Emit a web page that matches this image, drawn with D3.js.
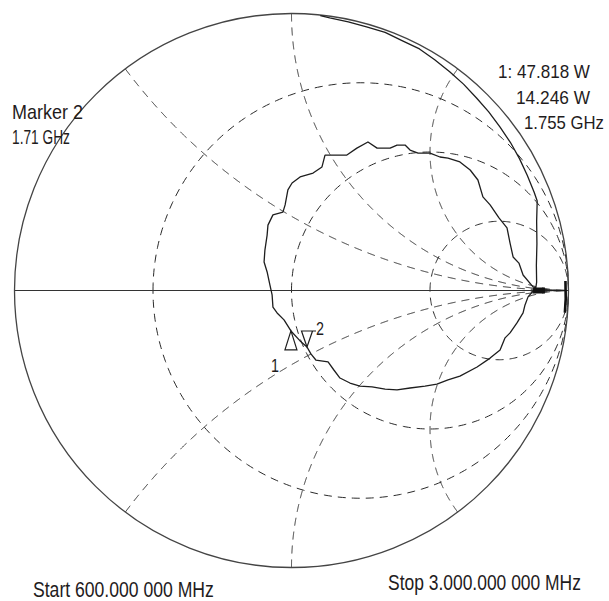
<!DOCTYPE html>
<html>
<head>
<meta charset="utf-8">
<script src="https://cdn.jsdelivr.net/npm/d3@7"></script>
<style>
  html, body { margin: 0; padding: 0; background: #fff; }
  svg { display: block; }
  text { font-family: "Liberation Sans", Arial, sans-serif; fill: #1f1c1d; }
</style>
</head>
<body>
<svg id="chart" width="609" height="601"></svg>
<script>
// ---------- data ----------
// Smith chart graticule (normalised resistance circles / reactance arcs)
const resistanceCircles = [1/3, 1, 3];
const reactanceArcs = [0.5, 1, 2, -0.5, -1, -2];

// Measured trace, reflection coefficient (real, imaginary)
const traceRe = [0.104,0.138,0.205,0.271,0.338,0.399,0.462,0.517,0.571,0.621,0.668,0.712,0.753,0.790,0.823,0.851,0.876,0.887,
  0.885,0.886,0.884,0.885,0.882,
  0.872,0.836,0.821,0.800,0.789,0.778,0.749,0.717,0.691,0.673,0.645,0.608,0.565,0.536,0.500,0.457,0.428,0.410,0.381,0.356,0.309,0.276,0.236,0.200,0.157,0.121,
  0.110,0.078,0.031,0.002,-0.013,-0.023,-0.031,-0.067,-0.085,-0.088,-0.096,-0.099,-0.088,-0.078,-0.070,-0.067,-0.052,-0.027,-0.002,
  0.031,0.056,0.070,0.088,0.132,0.153,0.175,0.211,0.247,0.291,0.338,0.381,0.428,0.482,0.525,0.565,0.608,0.670,0.717,0.753,0.771,0.789,0.814,0.836,0.843,0.854,0.872,
  0.915,0.958,0.990,0.990,0.986];
const traceIm = [0.992,0.984,0.970,0.952,0.932,0.902,0.872,0.833,0.790,0.745,0.695,0.645,0.590,0.535,0.476,0.416,0.355,0.323,
  0.250,0.170,0.090,0.030,0.010,
  0.013,0.056,0.099,0.121,0.171,0.226,0.262,0.309,0.338,0.399,0.435,0.464,0.478,0.482,0.496,0.496,0.507,0.525,0.525,0.514,0.514,0.536,0.514,0.489,0.489,0.489,
  0.446,0.424,0.410,0.388,0.363,0.309,0.283,0.273,0.236,0.200,0.146,0.103,0.067,0.020,-0.016,-0.060,-0.081,-0.106,-0.146,
  -0.182,-0.204,-0.229,-0.251,-0.258,-0.287,-0.316,-0.334,-0.345,-0.348,-0.356,-0.359,-0.352,-0.345,-0.338,-0.323,-0.309,-0.276,-0.244,-0.215,-0.171,-0.153,-0.117,-0.081,-0.052,-0.023,-0.002,
  0.002,0.000,0.000,-0.034,-0.078];

// dense (overplotted) parts of the trace near the open-circuit point
const denseRe = [0.872, 0.915];
const denseIm = [0.000, 0.000];
const edgeRe = [0.989, 0.990, 0.987];
const edgeIm = [0.034, -0.030, -0.080];

// markers
const markerIds = ["1", "2"];
const markerRe = [-0.002, 0.056];
const markerIm = [-0.146, -0.204];

// texts
const markerReadout = ["1: 47.818 W", "14.246 W", "1.755 GHz"];
const activeMarker = ["Marker 2", "1.71 GHz"];
const startLabel = "Start 600.000 000 MHz";
const stopLabel = "Stop 3.000.000 000 MHz";

// ---------- layout ----------
const cx = 291.5, cy = 290.5, R = 277;
const x = d3.scaleLinear().domain([-1, 1]).range([cx - R, cx + R]);
const y = d3.scaleLinear().domain([-1, 1]).range([cy + R, cy - R]);
const svg = d3.select("#chart");
const line = d3.line().x(d => x(d[0])).y(d => y(d[1]));

const gridColor = "#2a2a2a";
const dash = "8,6";

// resistance circles
const grid = svg.append("g");
resistanceCircles.forEach(r => {
  const c = r / (1 + r), rad = 1 / (1 + r);
  const pts = d3.range(0, 361, 1).map(a => {
    const t = Math.PI - a * Math.PI / 180;
    return [c + rad * Math.cos(t), rad * Math.sin(t)];
  });
  grid.append("path").attr("d", line(pts))
    .attr("fill", "none").attr("stroke", gridColor).attr("stroke-width", 1)
    .attr("stroke-dasharray", dash);
});

// reactance arcs: z = r + jx, r from 0 to large
reactanceArcs.forEach(xv => {
  const pts = d3.range(0, 1000).map(i => {
    const r = Math.tan(i / 1000 * Math.PI / 2);
    const den = (r + 1) * (r + 1) + xv * xv;
    return [(r * r - 1 + xv * xv) / den, 2 * xv / den];
  });
  pts.push([1, 0]);
  grid.append("path").attr("d", line(pts))
    .attr("fill", "none").attr("stroke", gridColor).attr("stroke-width", 1)
    .attr("stroke-dasharray", dash);
});

// real axis
svg.append("line")
  .attr("x1", x(-1)).attr("x2", x(1)).attr("y1", y(0)).attr("y2", y(0))
  .attr("stroke", "#333").attr("stroke-width", 1.2);

// outer circle
svg.append("circle")
  .attr("cx", x(0)).attr("cy", y(0)).attr("r", x(1) - x(0))
  .attr("fill", "none").attr("stroke", "#444").attr("stroke-width", 1.3);

// trace
const trace = traceRe.map((v, i) => [v, traceIm[i]]);
svg.append("path").attr("d", line(trace))
  .attr("fill", "none").attr("stroke", "#1e1e1e").attr("stroke-width", 1.3)
  .attr("stroke-linejoin", "round");

svg.append("path").attr("d", line(denseRe.map((v, i) => [v, denseIm[i]])))
  .attr("fill", "none").attr("stroke", "#111").attr("stroke-width", 6);
svg.append("path").attr("d", line(edgeRe.map((v, i) => [v, edgeIm[i]])))
  .attr("fill", "none").attr("stroke", "#111").attr("stroke-width", 2.6);

// texts: condensed by horizontal scaling to the measured width
function label(t, xx, yy, size, width) {
  const g = svg.append("g");
  const tx = g.append("text").attr("x", 0).attr("y", 0).attr("font-size", size).text(t);
  const nat = tx.node().getComputedTextLength();
  const k = width / nat;
  g.attr("transform", `translate(${xx},${yy}) scale(${k},1)`);
}

// markers
const m1x = x(markerRe[0]), m1y = y(markerIm[0]);
svg.append("path")
  .attr("d", `M${m1x},${m1y} L${m1x - 6},${m1y + 19} L${m1x + 6},${m1y + 19} Z`)
  .attr("fill", "none").attr("stroke", "#1e1e1e").attr("stroke-width", 1.2);
label(markerIds[0], m1x - 20, m1y + 41, 19, 8);

const m2x = x(markerRe[1]), m2y = y(markerIm[1]);
svg.append("path")
  .attr("d", `M${m2x},${m2y} L${m2x - 5.5},${m2y - 16} L${m2x + 5.5},${m2y - 16} Z M${m2x + 5.5},${m2y - 16} L${m2x + 9},${m2y - 16}`)
  .attr("fill", "none").attr("stroke", "#1e1e1e").attr("stroke-width", 1.2);
label(markerIds[1], m2x + 9, m2y - 12, 18, 8);

label(activeMarker[0], 12, 118.5, 21, 71);
label(activeMarker[1], 12, 144, 21, 58);
label(markerReadout[0], 498, 78, 19, 92);
label(markerReadout[1], 516, 104, 19, 74);
label(markerReadout[2], 524, 129, 19, 80);
label(startLabel, 33, 597, 22, 181);
label(stopLabel, 388, 590, 22, 193);
</script>
</body>
</html>
